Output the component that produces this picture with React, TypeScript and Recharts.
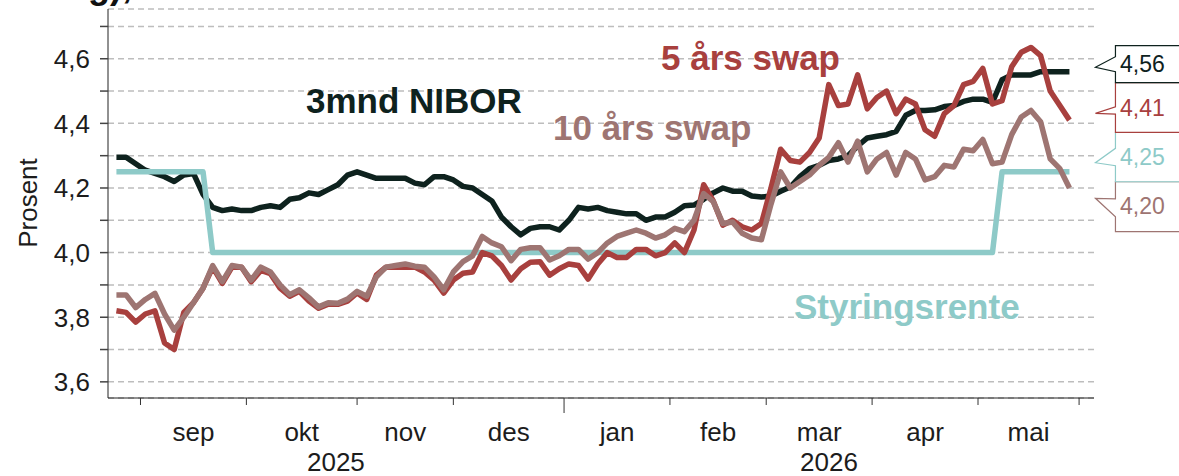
import React from 'react';
import { ComposedChart, Line, XAxis, YAxis, CartesianGrid, ReferenceDot } from 'recharts';

// x = trading-day index (weekdays from 25 Aug 2025), one observation every second weekday
const NIBOR = [4.295,4.295,4.275,4.255,4.245,4.235,4.22,4.24,4.245,4.18,
  4.14,4.13,4.135,4.13,4.13,4.14,4.145,4.14,4.165,4.17,
  4.185,4.18,4.195,4.21,4.24,4.25,4.24,4.23,4.23,4.23,
  4.23,4.215,4.21,4.235,4.235,4.225,4.205,4.2,4.18,4.16,
  4.11,4.08,4.055,4.075,4.08,4.08,4.07,4.1,4.14,4.135,
  4.14,4.13,4.125,4.12,4.12,4.1,4.11,4.11,4.125,4.145,
  4.147,4.165,4.185,4.2,4.19,4.19,4.175,4.172,4.175,4.19,
  4.203,4.235,4.26,4.27,4.285,4.29,4.3,4.33,4.355,4.36,
  4.365,4.375,4.425,4.44,4.44,4.442,4.452,4.455,4.468,4.475,
  4.475,4.465,4.535,4.55,4.55,4.55,4.56,4.56,4.56,4.56];

const SWAP5 = [3.82,3.815,3.785,3.81,3.82,3.72,3.70,3.815,3.845,3.89,
  3.955,3.905,3.955,3.955,3.91,3.945,3.935,3.89,3.865,3.88,
  3.85,3.828,3.84,3.84,3.85,3.875,3.855,3.93,3.955,3.955,
  3.955,3.955,3.94,3.915,3.875,3.915,3.936,3.94,4.0,3.99,
  3.96,3.915,3.95,3.97,3.972,3.93,3.95,3.965,3.96,3.918,
  3.965,4.0,3.985,3.985,4.01,4.01,3.99,4.0,4.03,4.0,
  4.07,4.21,4.16,4.085,4.1,4.08,4.07,4.09,4.2,4.32,
  4.285,4.28,4.31,4.355,4.52,4.455,4.46,4.55,4.445,4.48,
  4.5,4.43,4.475,4.46,4.38,4.36,4.43,4.455,4.52,4.53,
  4.57,4.46,4.47,4.575,4.62,4.635,4.61,4.5,4.455,4.41];

const SWAP10 = [3.869,3.869,3.83,3.855,3.874,3.81,3.76,3.80,3.845,3.89,
  3.96,3.91,3.96,3.955,3.915,3.955,3.94,3.90,3.87,3.885,
  3.86,3.832,3.845,3.843,3.856,3.88,3.865,3.925,3.955,3.96,
  3.965,3.958,3.955,3.925,3.885,3.94,3.972,3.99,4.05,4.03,
  4.018,3.975,4.01,4.015,4.015,3.977,3.99,4.01,4.01,3.98,
  4.0,4.03,4.05,4.06,4.07,4.06,4.045,4.055,4.075,4.065,
  4.1,4.183,4.158,4.09,4.095,4.06,4.045,4.04,4.15,4.25,
  4.2,4.22,4.24,4.27,4.295,4.34,4.28,4.345,4.25,4.29,
  4.31,4.24,4.31,4.29,4.225,4.235,4.27,4.265,4.32,4.315,
  4.35,4.275,4.28,4.365,4.42,4.44,4.405,4.29,4.26,4.2];

const RATE = [4.25,4.25,4.25,4.25,4.25,4.25,4.25,4.25,4.25,4.25,
  4.0,4.0,4.0,4.0,4.0,4.0,4.0,4.0,4.0,4.0,
  4.0,4.0,4.0,4.0,4.0,4.0,4.0,4.0,4.0,4.0,
  4.0,4.0,4.0,4.0,4.0,4.0,4.0,4.0,4.0,4.0,
  4.0,4.0,4.0,4.0,4.0,4.0,4.0,4.0,4.0,4.0,
  4.0,4.0,4.0,4.0,4.0,4.0,4.0,4.0,4.0,4.0,
  4.0,4.0,4.0,4.0,4.0,4.0,4.0,4.0,4.0,4.0,
  4.0,4.0,4.0,4.0,4.0,4.0,4.0,4.0,4.0,4.0,
  4.0,4.0,4.0,4.0,4.0,4.0,4.0,4.0,4.0,4.0,
  4.0,4.0,4.25,4.25,4.25,4.25,4.25,4.25,4.25,4.25];

const STEP = 2; // weekdays between observations
const MONTH_BOUNDS = [5, 27, 50, 70, 93, 115, 135, 157, 179, 200];
const YEAR_BOUND = 93;
const MONTH_MIDS = [16, 38.5, 60, 81.5, 104, 125, 146, 168, 189.5];
const MONTH_LABELS = ['sep', 'okt', 'nov', 'des', 'jan', 'feb', 'mar', 'apr', 'mai'];
const YEAR_POS = [45.6, 148.05];
const YEAR_LABELS = ['2025', '2026'];
const Y_TICKS = [3.6, 3.7, 3.8, 3.9, 4.0, 4.1, 4.2, 4.3, 4.4, 4.5, 4.6, 4.7];
const X_DOMAIN = [-1.75, 203.1];
const Y_DOMAIN = [3.55, 4.754];

const C_NIBOR = '#0e221e';
const C_SWAP5 = '#a8403e';
const C_SWAP10 = '#9e7572';
const C_RATE = '#8ecac8';
const FONT = '"Liberation Sans", Arial, Helvetica, sans-serif';
const LW = 5.5;

const data = NIBOR.map((v, k) => ({
  i: k * STEP,
  nibor: v,
  swap5: SWAP5[k],
  swap10: SWAP10[k],
  rate: RATE[k],
}));

const X_TICKS = [...MONTH_BOUNDS, ...MONTH_MIDS, ...YEAR_POS].sort((a, b) => a - b);

const XTick = (props: any) => {
  const { x, y, payload } = props;
  const v = payload.value;
  const bi = MONTH_BOUNDS.indexOf(v);
  if (bi >= 0) {
    const len = v === YEAR_BOUND ? 15 : 7;
    return <line x1={x} x2={x} y1={y} y2={y + len} stroke="#333" strokeWidth={1} />;
  }
  const mi = MONTH_MIDS.indexOf(v);
  if (mi >= 0) {
    return (
      <text x={x} y={y + 43} textAnchor="middle" fontSize={26} fill="#1c1c1c" fontFamily={FONT}>
        {MONTH_LABELS[mi]}
      </text>
    );
  }
  const yi = YEAR_POS.indexOf(v);
  if (yi >= 0) {
    return (
      <text x={x} y={y + 73} textAnchor="middle" fontSize={26} fill="#1c1c1c" fontFamily={FONT}>
        {YEAR_LABELS[yi]}
      </text>
    );
  }
  return null;
};

const YTick = (props: any) => {
  const { x, y, payload } = props;
  const v = payload.value;
  if (Math.round(v * 10) % 2 !== 0) return null;
  return (
    <text x={x} y={y} dy="0.36em" textAnchor="end" fontSize={26} fill="#1c1c1c" fontFamily={FONT}>
      {v.toFixed(1).replace('.', ',')}
    </text>
  );
};

type Spec = { top: number; bottom: number; nUp: number; tip: number; nLow: number; base: number };

const makeCallout = (color: string, textColor: string, text: string, s: Spec) => (props: any) => {
  const { cx, cy } = props;
  const tipX = cx + 26;
  const left = cx + 46;
  const right = cx + 140;
  const d = `M${right},${cy + s.top} L${left},${cy + s.top} L${left},${cy + s.nUp} L${tipX},${cy + s.tip} L${left},${cy + s.nLow} L${left},${cy + s.bottom} L${right},${cy + s.bottom}`;
  return (
    <g>
      <path d={d} fill="#fff" stroke={color} strokeWidth={1.2} />
      <text x={cx + 73} y={cy + s.base} textAnchor="middle" fontSize={23} fill={textColor} fontFamily={FONT}>
        {text}
      </text>
    </g>
  );
};

const last = data[data.length - 1];
const fmt = (v: number) => v.toFixed(2).replace('.', ',');

export default function App() {
  return (
    <div style={{ position: 'absolute', left: 0, top: 0, width: 1179, height: 476, background: '#fff', fontFamily: FONT }}>
      <ComposedChart width={1179} height={476} data={data} margin={{ top: 9, right: 85, bottom: 0, left: 0 }}>
        <CartesianGrid horizontal vertical={false} stroke="#bdbdbd" strokeDasharray="6 4" strokeWidth={1.5} />
        <XAxis
          dataKey="i"
          type="number"
          domain={X_DOMAIN}
          ticks={X_TICKS}
          interval={0}
          tick={<XTick />}
          tickLine={false}
          tickSize={0}
          tickMargin={0}
          height={78}
          axisLine={{ stroke: '#222', strokeWidth: 1 }}
          allowDataOverflow
        />
        <XAxis
          xAxisId="t"
          orientation="top"
          dataKey="i"
          type="number"
          domain={X_DOMAIN}
          height={0}
          tick={false}
          tickLine={false}
          axisLine={{ stroke: '#222', strokeWidth: 1 }}
          allowDataOverflow
        />
        <YAxis
          type="number"
          domain={Y_DOMAIN}
          ticks={Y_TICKS}
          interval={0}
          width={108}
          tick={<YTick />}
          tickSize={8}
          tickMargin={10}
          tickLine={{ stroke: '#444', strokeWidth: 1.5 }}
          axisLine={{ stroke: '#222', strokeWidth: 1 }}
          allowDataOverflow
        />
        <YAxis
          yAxisId="r"
          orientation="right"
          type="number"
          domain={Y_DOMAIN}
          width={0}
          tick={false}
          tickLine={false}
          axisLine={{ stroke: '#222', strokeWidth: 1 }}
          allowDataOverflow
        />
        <Line dataKey="nibor" stroke={C_NIBOR} strokeWidth={LW} dot={false} isAnimationActive={false} strokeLinejoin="round" />
        <Line dataKey="rate" stroke={C_RATE} strokeWidth={LW} dot={false} isAnimationActive={false} strokeLinejoin="round" />
        <Line dataKey="swap5" stroke={C_SWAP5} strokeWidth={LW} dot={false} isAnimationActive={false} strokeLinejoin="round" />
        <Line dataKey="swap10" stroke={C_SWAP10} strokeWidth={LW} dot={false} isAnimationActive={false} strokeLinejoin="round" />
        <ReferenceDot x={last.i} y={last.swap10} ifOverflow="visible"
          shape={makeCallout(C_SWAP10, C_SWAP10, fmt(last.swap10), { top: -6.3, bottom: 43.7, nUp: 10.8, tip: 10.3, nLow: 28.7, base: 26.3 })} />
        <ReferenceDot x={last.i} y={last.rate} ifOverflow="visible"
          shape={makeCallout(C_RATE, C_RATE, fmt(last.rate), { top: -39.5, bottom: 9.9, nUp: -23.5, tip: -9.1, nLow: -6.1, base: -6.8 })} />
        <ReferenceDot x={last.i} y={last.swap5} ifOverflow="visible"
          shape={makeCallout(C_SWAP5, C_SWAP5, fmt(last.swap5), { top: -37.4, bottom: 12.2, nUp: -13.4, tip: -6.8, nLow: -6.0, base: -4.4 })} />
        <ReferenceDot x={last.i} y={last.nibor} ifOverflow="visible"
          shape={makeCallout(C_NIBOR, C_NIBOR, fmt(last.nibor), { top: -26, bottom: 11, nUp: -15, tip: -4.4, nLow: 0, base: 0 })} />
      </ComposedChart>
      <svg width={1179} height={476} style={{ position: 'absolute', left: 0, top: 0, pointerEvents: 'none' }}>
        <text x={132} y={-2.5} textAnchor="end" fontSize={36} fontWeight="bold" fill="#111" fontFamily={FONT}>Renter (prosent, utvikling),</text>
        <text transform="translate(37,203) rotate(-90)" textAnchor="middle" fontSize={26} fill="#1c1c1c" fontFamily={FONT}>Prosent</text>
        <text x={306} y={113} fontSize={35} fontWeight="bold" fill={C_NIBOR} fontFamily={FONT}>3mnd NIBOR</text>
        <text x={661} y={70} fontSize={35} fontWeight="bold" fill={C_SWAP5} fontFamily={FONT}>5 års swap</text>
        <text x={553} y={140} fontSize={35} fontWeight="bold" fill={C_SWAP10} fontFamily={FONT}>10 års swap</text>
        <text x={794} y={319} fontSize={35} fontWeight="bold" fill={C_RATE} fontFamily={FONT}>Styringsrente</text>
      </svg>
    </div>
  );
}
